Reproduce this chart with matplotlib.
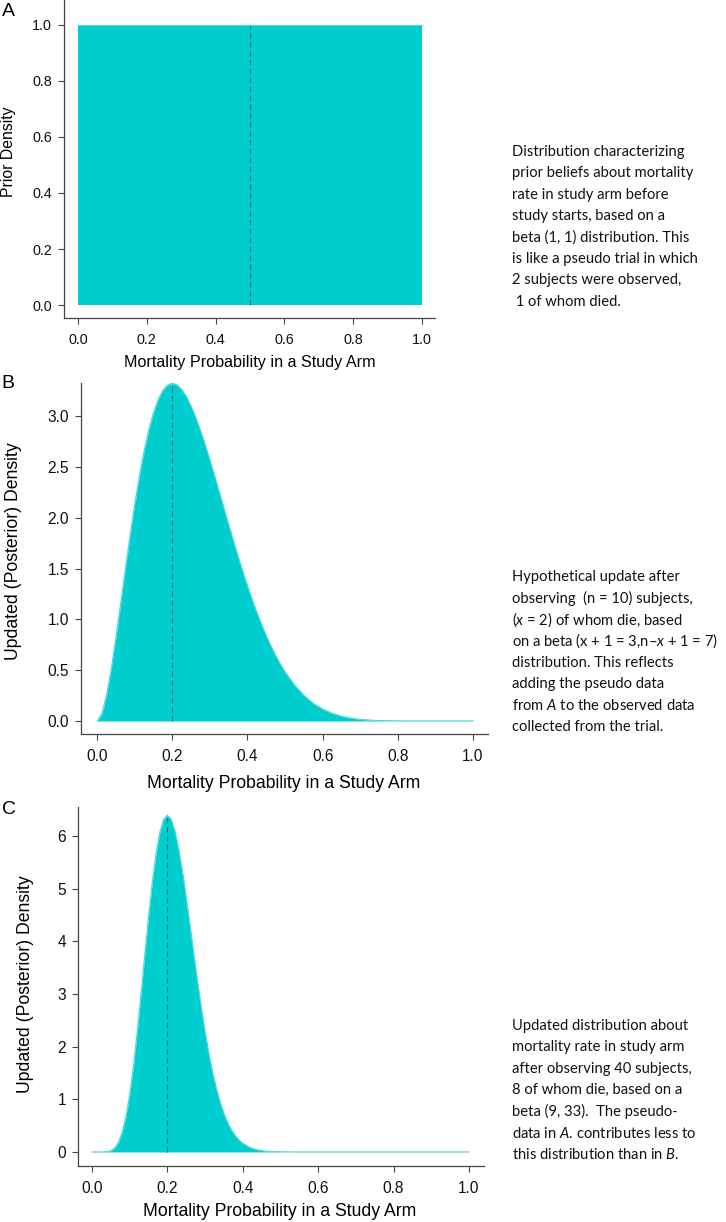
import matplotlib
matplotlib.use("Agg")
import matplotlib.pyplot as plt

# Panel A: prior beta(1, 1)
prior_x = [0.0, 1.0]
prior_y = [1.0, 1.0]

# Panel B: posterior beta(3, 9), density
post_b_x = [0.0, 0.0125, 0.025, 0.0375, 0.05, 0.0625, 0.075, 0.0875, 0.1, 0.1125,
            0.125, 0.1375, 0.15, 0.1625, 0.175, 0.1875, 0.2, 0.2125, 0.225, 0.2375,
            0.25, 0.2625, 0.275, 0.2875, 0.3, 0.3125, 0.325, 0.3375, 0.35, 0.3625,
            0.375, 0.3875, 0.4, 0.4125, 0.425, 0.4375, 0.45, 0.4625, 0.475, 0.4875,
            0.5, 0.525, 0.55, 0.575, 0.6, 0.625, 0.65, 0.675, 0.7, 0.725,
            0.75, 0.8, 0.85, 0.9, 1.0]
post_b_y = [0.0, 0.070, 0.253, 0.513, 0.821, 1.154, 1.492, 1.822, 2.131, 2.411,
            2.658, 2.866, 3.035, 3.164, 3.254, 3.305, 3.322, 3.306, 3.261, 3.191,
            3.097, 2.985, 2.858, 2.718, 2.568, 2.413, 2.253, 2.092, 1.932, 1.775,
            1.621, 1.472, 1.330, 1.195, 1.069, 0.950, 0.839, 0.738, 0.645, 0.560,
            0.483, 0.354, 0.252, 0.174, 0.117, 0.076, 0.047, 0.028, 0.016, 0.0085,
            0.004, 0.001, 0.0001, 0.0, 0.0]

# Panel C: posterior beta(9, 33)
post_c_x = [0.0, 0.02, 0.03, 0.04, 0.05, 0.06, 0.07, 0.08, 0.09, 0.1,
            0.11, 0.12, 0.13, 0.14, 0.15, 0.16, 0.17, 0.18, 0.19, 0.2,
            0.21, 0.22, 0.23, 0.24, 0.25, 0.26, 0.27, 0.28, 0.29, 0.3,
            0.31, 0.32, 0.33, 0.34, 0.35, 0.36, 0.37, 0.38, 0.39, 0.4,
            0.42, 0.44, 0.46, 0.48, 0.5, 0.55, 0.6, 0.8, 1.0]
post_c_y = [0.0, 0.00004, 0.0008, 0.006, 0.024, 0.073, 0.178, 0.367, 0.664, 1.083,
            1.622, 2.268, 2.985, 3.730, 4.455, 5.112, 5.660, 6.067, 6.314, 6.395,
            6.318, 6.097, 5.758, 5.326, 4.833, 4.305, 3.767, 3.241, 2.743, 2.285,
            1.874, 1.514, 1.206, 0.946, 0.732, 0.558, 0.420, 0.312, 0.228, 0.165,
            0.082, 0.039, 0.017, 0.007, 0.003, 0.0003, 0.0, 0.0, 0.0]

modes = [0.5, 0.2, 0.2]
x_ticks = [0.0, 0.2, 0.4, 0.6, 0.8, 1.0]
y_ticks_a = [0.0, 0.2, 0.4, 0.6, 0.8, 1.0]
y_ticks_b = [0.0, 0.5, 1.0, 1.5, 2.0, 2.5, 3.0]
y_ticks_c = [0, 1, 2, 3, 4, 5, 6]

x_label = "Mortality Probability in a Study Arm"

text_a = ["Distribution characterizing",
          "prior beliefs about mortality",
          "rate in study arm before",
          "study starts, based on a",
          "beta (1, 1) distribution. This",
          "is like a pseudo trial in which",
          "2 subjects were observed,",
          " 1 of whom died."]
text_b = ["Hypothetical update after",
          "observing  (n = 10) subjects,",
          "($x$ = 2) of whom die, based",
          "on a beta (x + 1 = 3,n\u2013$x$ + 1 = 7)",
          "distribution. This reflects",
          "adding the pseudo data",
          "from $A$ to the observed data",
          "collected from the trial."]
text_c = ["Updated distribution about",
          "mortality rate in study arm",
          "after observing 40 subjects,",
          "8 of whom die, based on a",
          "beta (9, 33).  The pseudo-",
          "data in $A$. contributes less to",
          "this distribution than in $B$."]

plt.rcParams["font.family"] = ["Liberation Sans", "DejaVu Sans"]
plt.rcParams["mathtext.fontset"] = "custom"
plt.rcParams["mathtext.rm"] = "Lato"
plt.rcParams["mathtext.it"] = "Lato:italic"

W, H = 726, 1222
FILL = "#00cdcd"
EDGE = "#4fd9d9"
DASH = "#2a7479"
AXC = "#444444"

fig = plt.figure(figsize=(W / 100, H / 100), dpi=100)


def panel(box, xlim, ylim, x, y, mode, yticks, yfmt, tick_size):
    left, top, right, bottom = box
    ax = fig.add_axes([left / W, 1 - bottom / H, (right - left) / W, (bottom - top) / H])
    ax.fill_between(x, y, 0, color=FILL, lw=0)
    ax.plot(x, y, color=EDGE, lw=0.9)
    ax.vlines(mode, 0, max(y), color=DASH, lw=0.8, linestyles=(0, (5, 3)))
    ax.set_xlim(xlim)
    ax.set_ylim(ylim)
    ax.set_xticks(x_ticks)
    ax.set_xticklabels(["%.1f" % v for v in x_ticks])
    ax.set_yticks(yticks)
    ax.set_yticklabels([yfmt % v for v in yticks])
    for s in ["top", "right"]:
        ax.spines[s].set_visible(False)
    for s in ["left", "bottom"]:
        ax.spines[s].set_color(AXC)
        ax.spines[s].set_linewidth(0.9)
    ax.tick_params(direction="out", length=4.5, width=0.8, color=AXC,
                   labelsize=tick_size, labelcolor="#111111")
    ax.tick_params(axis="x", pad=6)
    ax.tick_params(axis="y", pad=4)
    return ax


panel((64, 0, 435, 318), (-0.041, 1.038), (-0.046, 1.088),
      prior_x, prior_y, modes[0], y_ticks_a, "%.1f", 10.4)
panel((81, 383, 488, 734), (-0.043, 1.040), (-0.128, 3.325),
      post_b_x, post_b_y, modes[1], y_ticks_b, "%.1f", 11.2)
panel((78, 807, 484, 1166), (-0.037, 1.040), (-0.266, 6.55),
      post_c_x, post_c_y, modes[2], y_ticks_c, "%d", 11.2)


def ftext(x, y, s, **kw):
    fig.text(x / W, 1 - y / H, s, **kw)


# axis labels
ftext(250, 362, x_label, ha="center", va="center", fontsize=11.6)
ftext(284, 783, x_label, ha="center", va="center", fontsize=12.7)
ftext(280, 1211, x_label, ha="center", va="center", fontsize=12.7)
ftext(9, 152, "Prior Density", ha="center", va="center", rotation=90, fontsize=11.3)
ftext(14, 551, "Updated (Posterior) Density", ha="center", va="center", rotation=90, fontsize=12.7)
ftext(26, 984, "Updated (Posterior) Density", ha="center", va="center", rotation=90, fontsize=12.7)

# panel letters
ftext(8, 12, "A", ha="center", va="center", fontsize=14)
ftext(8, 383, "B", ha="center", va="center", fontsize=14)
ftext(9, 810, "C", ha="center", va="center", fontsize=14)

# side notes
for lines, y0 in [(text_a, 152), (text_b, 577), (text_c, 1026)]:
    for i, line in enumerate(lines):
        ftext(512, y0 + i * 21.4, line, ha="left", va="center",
              fontsize=10.6, family=["Lato", "DejaVu Sans"], color="#111111")

fig.savefig("out.png", dpi=100)
